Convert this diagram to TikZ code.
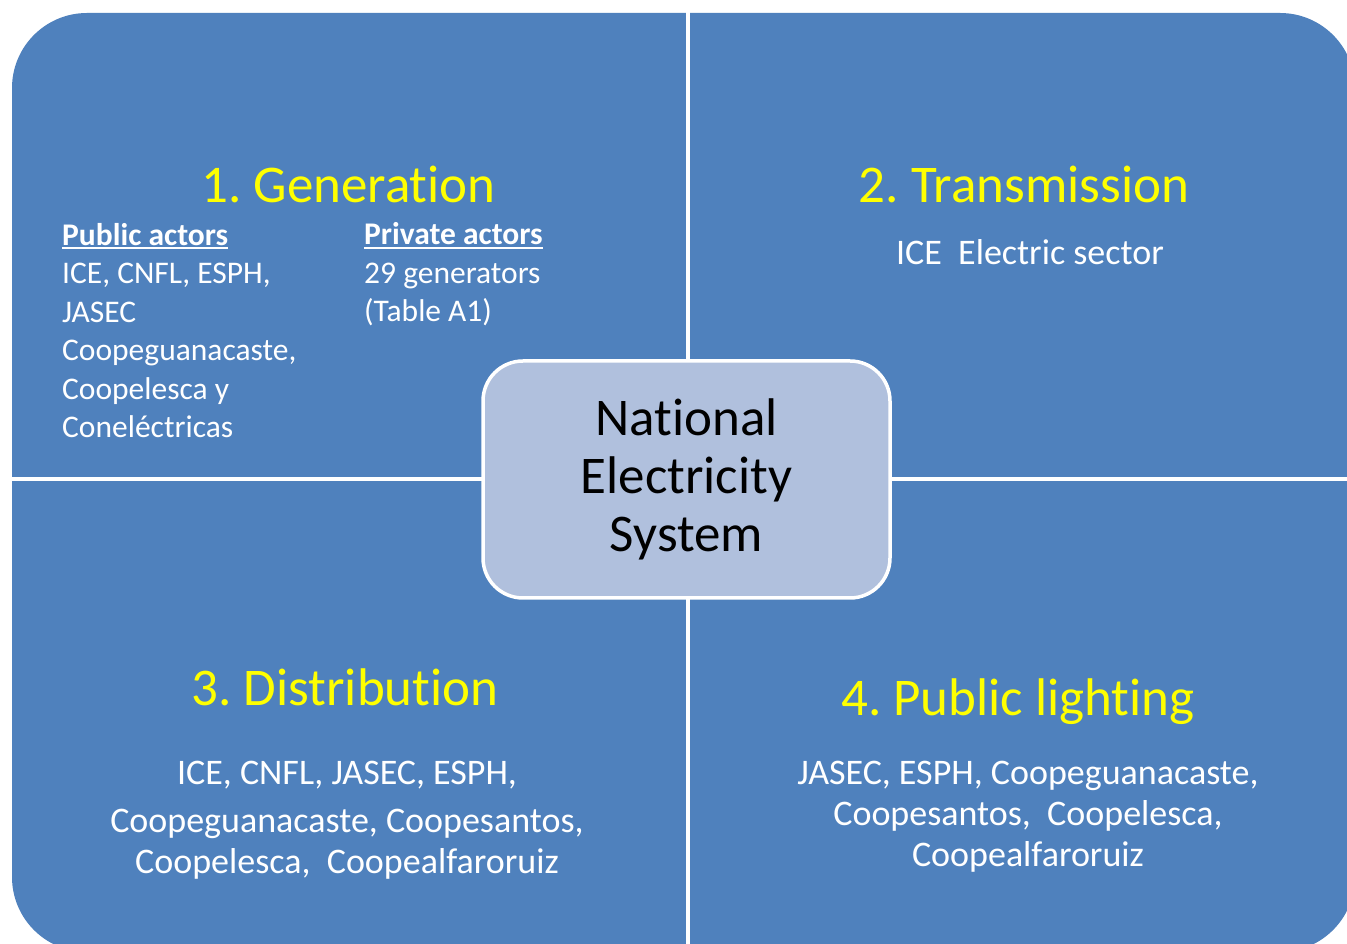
\documentclass[tikz,border=0pt]{standalone}
\usepackage{fontspec}
\setmainfont{Carlito}[Ligatures = NoCommon]
\frenchspacing
\definecolor{quadblue}{RGB}{79,129,189}
\definecolor{hubfill}{RGB}{176,192,221}
\definecolor{titleyellow}{RGB}{255,255,0}
\newcommand{\actorhead}[1]{\setbox0\hbox{\textbf{#1}}\rlap{\rule[-4pt]{\wd0}{2pt}}\box0}
\tikzset{
  quadtitle/.style = {text = titleyellow, font = \fontsize{53}{64}\selectfont, anchor = base, inner sep = 0pt},
  quadtext/.style = {text = white, font = \fontsize{36}{41}\selectfont, align = center, anchor = base, inner sep = 0pt},
  actortext/.style = {text = white, font = \fontsize{31.5}{38.5}\selectfont, align = left, anchor = base west, inner sep = 0pt},
  hub/.style = {draw = white, line width = 3.5pt, fill = hubfill, rounded corners = 40pt,
    minimum width = 407pt, minimum height = 237pt, align = center, font = \fontsize{53}{58}\selectfont}
}
\begin{document}
\begin{tikzpicture}[x = 1pt, y = 1pt]
  \path [use as bounding box, clip] (0, 0) rectangle (1347, 943);
  \fill [white] (0, 0) rectangle (1347, 943);
  \fill [quadblue, rounded corners = 75pt] (12, -9) rectangle (1355, 930);
  \draw [white, line width = 4pt] (688, 950) -- (688, -20);
  \draw [white, line width = 4pt] (0, 464) -- (1360, 464);
  \node [hub] (nes) at (686.5, 463.5) {National\\Electricity\\System};

  % multi-line nodes sit on the baseline of their last line
  \node [quadtitle] (gen) at (348.5, 740) {1. Generation};
  \node [actortext] (genpub) at (62, 505) {\actorhead{Public actors}\\ICE, CNFL, ESPH,\\JASEC\\Coopeguanacaste,\\Coopelesca y\\Coneléctricas};
  \node [actortext] (genpriv) at (364, 621) {\actorhead{Private actors}\\29 generators\\(Table A1)};

  \node [quadtitle] (trans) at (1024, 740) {2. Transmission};
  \node [quadtext] (transice) at (1030, 678) {ICE\ \ Electric sector};

  \node [quadtitle] (dist) at (345, 237) {3. Distribution};
  \node [quadtext] (distlist) at (347, 70) {ICE, CNFL, JASEC, ESPH,\\[7pt]Coopeguanacaste, Coopesantos,\\Coopelesca,\ \ Coopealfaroruiz};

  \node [quadtitle] (light) at (1018, 227) {4. Public lighting};
  \node [quadtext] (lightlist) at (1028, 77) {JASEC, ESPH, Coopeguanacaste,\\Coopesantos,\ \ Coopelesca,\\Coopealfaroruiz};
\end{tikzpicture}
\end{document}
